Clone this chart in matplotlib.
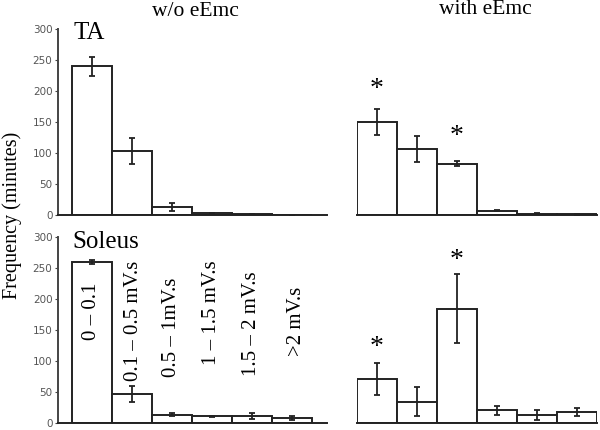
import matplotlib
matplotlib.use("Agg")
import matplotlib.pyplot as plt
import numpy as np

categories = ["0 – 0.1", "0.1 – 0.5 mV.s", "0.5 – 1mV.s", "1 – 1.5 mV.s", "1.5 – 2 mV.s", ">2 mV.s"]

ta_wo = [240, 103, 13, 2.5, 1.5, 0]
ta_wo_err = [15, 21, 6, 1, 0.5, 0]
ta_with = [150, 107, 83, 7, 2, 1]
ta_with_err = [21, 21, 4, 1, 0.5, 0.5]

sol_wo = [260, 47, 14, 11, 12, 8]
sol_wo_err = [3, 13, 2, 1, 5, 3]
sol_with = [71, 35, 185, 21, 13, 18]
sol_with_err = [26, 24, 56, 7, 8, 7]

yticks = [0, 50, 100, 150, 200, 250, 300]

# significance markers (bar index, y position)
ta_stars = [(0, 203), (2, 126)]
sol_stars = [(0, 123), (2, 263)]

# category label positions inside bottom-left panel (x index, y centre)
label_pos = [(0.0, 181), (1.05, 165), (2.0, 155), (3.0, 179), (4.0, 160), (5.12, 165)]

W, H = 600, 430
fig = plt.figure(figsize=(6, 4.3), dpi=100)

def px_axes(x0, x1, ytop, ybot):
    return fig.add_axes([x0 / W, 1 - ybot / H, (x1 - x0) / W, (ybot - ytop) / H])

serif = "Liberation Serif"
edge = "#222222"

def draw(ax, vals, errs, left):
    x = np.arange(len(vals))
    ax.bar(x, vals, width=1.0, color="white", edgecolor=edge, linewidth=1.4, zorder=2)
    ax.errorbar(x, vals, yerr=errs, fmt="none", ecolor=edge, elinewidth=1.3,
                capsize=2.5, capthick=1.3, zorder=3)
    ax.set_ylim(0, 300)
    for s in ["top", "right"]:
        ax.spines[s].set_visible(False)
    ax.spines["bottom"].set_color(edge)
    ax.spines["bottom"].set_linewidth(1.4)
    ax.set_xticks([])
    if left:
        ax.set_xlim(-0.85, 5.875)
        ax.spines["left"].set_color("#444444")
        ax.spines["left"].set_linewidth(1.4)
        ax.set_yticks(yticks)
        ax.tick_params(axis="y", length=2, width=0.8, colors="#444444", pad=2,
                       labelsize=7.5, labelcolor="#555555")
    else:
        ax.set_xlim(-0.5, 5.5)
        ax.spines["left"].set_visible(False)
        ax.set_yticks([])

ax_tl = px_axes(58, 327, 29, 215)
ax_tr = px_axes(357, 597, 29, 215)
ax_bl = px_axes(58, 327, 237.3, 423.3)
ax_br = px_axes(357, 597, 237.3, 423.3)

draw(ax_tl, ta_wo, ta_wo_err, True)
draw(ax_tr, ta_with, ta_with_err, False)
draw(ax_bl, sol_wo, sol_wo_err, True)
draw(ax_br, sol_with, sol_with_err, False)

for ax, stars in [(ax_tr, ta_stars), (ax_br, sol_stars)]:
    for xi, yv in stars:
        ax.text(xi, yv, "*", fontsize=20, family=serif, ha="center", va="center")

ax_tl.text(-0.45, 293, "TA", fontsize=18, family=serif, ha="left", va="center")
ax_bl.text(-0.5, 293, "Soleus", fontsize=18, family=serif, ha="left", va="center")

for (xi, yv), lab in zip(label_pos, categories):
    ax_bl.text(xi, yv, lab, rotation=90, fontsize=15, family=serif,
               ha="center", va="center")

fig.text(195 / W, 1 - 12 / H, "w/o eEmc", fontsize=15.5, family=serif, ha="center", va="center")
fig.text(485 / W, 1 - 10 / H, "with eEmc", fontsize=15.5, family=serif, ha="center", va="center")
fig.text(12 / W, 1 - 215 / H, "Frequency (minutes)", fontsize=14.5, family=serif,
         rotation=90, ha="center", va="center")

fig.savefig("out.png", dpi=100)
